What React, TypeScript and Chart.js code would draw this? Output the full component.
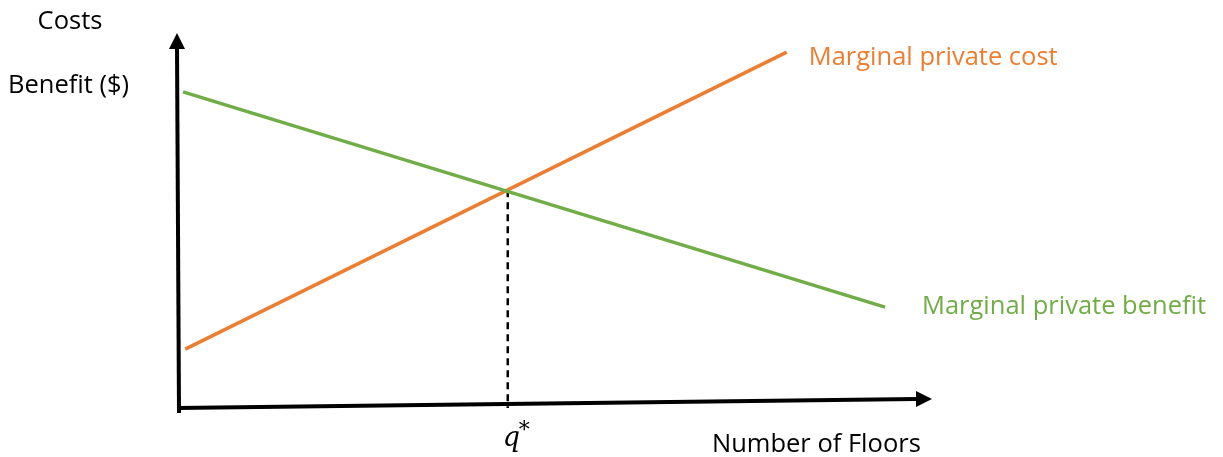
import React, { useEffect, useRef } from "react";
import { Chart, registerables } from "chart.js";

Chart.register(...registerables);

const xRange = [0, 10];
const yRange = [0, 10];
const benefitX = [0.04, 9.4];
const benefitY = [8.43, 2.69];
const costX = [0.07, 8.09];
const costY = [1.57, 9.49];
const qStar = 4.37;
const qStarY = 5.81;

const GREEN = "#70AD47";
const ORANGE = "#ED7D31";

const axesPlugin = {
  id: "econAxes",
  afterDraw(chart: any) {
    const { ctx, chartArea } = chart;
    const { left, right, top, bottom } = chartArea;
    const xs = chart.scales.x;
    const ys = chart.scales.y;
    ctx.save();
    ctx.strokeStyle = "#000";
    ctx.fillStyle = "#000";
    ctx.lineWidth = 4;
    ctx.lineCap = "butt";
    ctx.beginPath();
    ctx.moveTo(left - 1, bottom + 5);
    ctx.lineTo(left - 3, top + 14);
    ctx.stroke();
    ctx.beginPath();
    ctx.moveTo(left - 3, bottom);
    ctx.lineTo(right - 14, bottom - 9);
    ctx.stroke();
    ctx.beginPath();
    ctx.moveTo(left - 3, top);
    ctx.lineTo(left - 11, top + 16);
    ctx.lineTo(left + 5, top + 16);
    ctx.closePath();
    ctx.fill();
    ctx.beginPath();
    ctx.moveTo(right + 2, bottom - 9);
    ctx.lineTo(right - 14, bottom - 17);
    ctx.lineTo(right - 14, bottom - 1);
    ctx.closePath();
    ctx.fill();

    ctx.textBaseline = "middle";
    ctx.font = "25.5px 'Open Sans'";
    ctx.fillStyle = "#000";
    ctx.textAlign = "center";
    ctx.fillText("Costs", 70, 22);
    ctx.textAlign = "left";
    ctx.fillText("Benefit ($)", 8, 86);
    ctx.fillText("Number of Floors", 712, 445);

    ctx.fillStyle = ORANGE;
    ctx.fillText(
      "Marginal private cost",
      xs.getPixelForValue(costX[1]) + 22,
      ys.getPixelForValue(costY[1]) + 6
    );
    ctx.fillStyle = GREEN;
    ctx.fillText(
      "Marginal private benefit",
      xs.getPixelForValue(benefitX[1]) + 37,
      ys.getPixelForValue(benefitY[1])
    );

    ctx.fillStyle = "#000";
    const qx = xs.getPixelForValue(qStar);
    ctx.font = "italic 27px 'DejaVu Serif'";
    ctx.textAlign = "left";
    ctx.fillText("q", qx - 5, 439);
    ctx.font = "22px 'DejaVu Serif'";
    ctx.fillText("*", qx + 11, 431);
    ctx.restore();
  },
};

export default function App() {
  const ref = useRef<HTMLCanvasElement | null>(null);
  useEffect(() => {
    document.body.style.margin = "0";
    if (!ref.current) return;
    const chart = new Chart(ref.current, {
      type: "scatter",
      data: {
        datasets: [
          {
            data: benefitX.map((x, i) => ({ x, y: benefitY[i] })),
            showLine: true,
            borderColor: GREEN,
            borderWidth: 3.5,
            pointRadius: 0,
          },
          {
            data: costX.map((x, i) => ({ x, y: costY[i] })),
            showLine: true,
            borderColor: ORANGE,
            borderWidth: 3.5,
            pointRadius: 0,
          },
          {
            data: [
              { x: qStar, y: qStarY },
              { x: qStar, y: yRange[0] },
            ],
            showLine: true,
            borderColor: "#000",
            borderWidth: 2.5,
            borderDash: [7, 5],
            pointRadius: 0,
          },
        ],
      },
      options: {
        animation: false,
        responsive: true,
        maintainAspectRatio: false,
        layout: { padding: { left: 180, right: 293, top: 33, bottom: 49 } },
        plugins: { legend: { display: false }, tooltip: { enabled: false } },
        scales: {
          x: { type: "linear", min: xRange[0], max: xRange[1], display: false },
          y: { type: "linear", min: yRange[0], max: yRange[1], display: false },
        },
      },
      plugins: [axesPlugin],
    });
    return () => chart.destroy();
  }, []);
  return (
    <div style={{ position: "absolute", left: 0, top: 0, width: 1223, height: 457 }}>
      <canvas ref={ref} />
    </div>
  );
}
